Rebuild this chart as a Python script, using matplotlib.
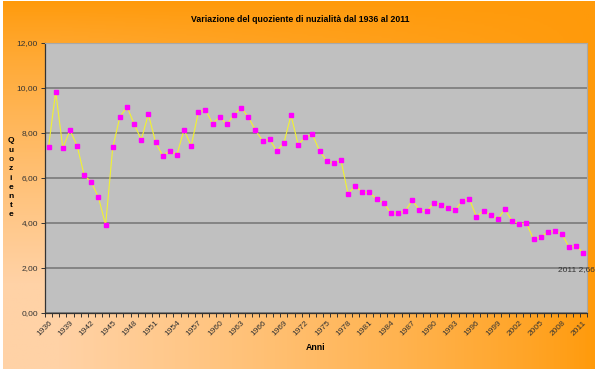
import numpy as np
import matplotlib
matplotlib.use("Agg")
import matplotlib.pyplot as plt
from matplotlib.colors import LinearSegmentedColormap

plt.rcParams['font.family'] = ['Liberation Sans', 'DejaVu Sans']

# quoziente di nuzialità, 1936-2011
anni = list(range(1936, 2012))
quoziente = [
    7.39, 9.84, 7.32, 8.13, 7.44, 6.12, 5.82, 5.14, 3.91, 7.36,
    8.71, 9.17, 8.40, 7.70, 8.84, 7.59, 6.99, 7.21, 7.04, 8.15,
    7.42, 8.92, 9.04, 8.42, 8.71, 8.38, 8.81, 9.13, 8.71, 8.13,
    7.66, 7.72, 7.20, 7.56, 8.79, 7.48, 7.81, 7.94, 7.20, 6.77,
    6.65, 6.79, 5.29, 5.66, 5.36, 5.36, 5.05, 4.90, 4.43, 4.46,
    4.52, 5.01, 4.59, 4.52, 4.87, 4.81, 4.65, 4.56, 4.98, 5.07,
    4.28, 4.55, 4.36, 4.18, 4.61, 4.09, 3.97, 4.00, 3.27, 3.39,
    3.59, 3.66, 3.50, 2.92, 2.99, 2.66,
]
y_ticks = [0, 2, 4, 6, 8, 10, 12]
etichetta_finale = "2011 2,66"

W, H = 600, 372
fig = plt.figure(figsize=(W / 100, H / 100), dpi=100)
fig.patch.set_facecolor("white")

# sfondo sfumato: arancione in alto a destra, pesca in basso a sinistra
bg = fig.add_axes([3 / W, 3 / H, 592 / W, 368 / H], zorder=-5)
xx, yy = np.meshgrid(np.linspace(0, 1, 300), np.linspace(0, 1, 200))
t = np.clip((1 - xx) * 1.1, 0, 1) * np.clip(yy * 1.3, 0, 1)
t = t ** 0.8
cmap = LinearSegmentedColormap.from_list("arancio", ["#ff9a0a", "#ffd2a6"])
bg.imshow(t, cmap=cmap, aspect="auto", extent=[0, 1, 0, 1], vmin=0, vmax=1)
bg.set_axis_off()

ax = fig.add_axes([45 / W, 1 - 313 / H, 542 / W, 270 / H])
ax.set_facecolor("#c0c0c0")

x = np.arange(len(anni))
ax.plot(x, quoziente, color="#f2f230", lw=0.8, zorder=3)
ax.plot(x, quoziente, ls="none", marker="s", ms=3.2, color="#ff00ff",
        mec="#ff00ff", zorder=4)

ax.set_xlim(-0.5, len(anni) - 0.5)
ax.set_ylim(0, 12)

ax.set_yticks(y_ticks)
ax.set_yticklabels([f"{v:.2f}".replace(".", ",") for v in y_ticks],
                   fontsize=6, color="#333333")
ax.yaxis.grid(True, color="#7a7a7a", lw=1.2)
ax.set_axisbelow(True)

ax.set_xticks(x[::3])
ax.set_xticklabels([str(a) for a in anni[::3]], rotation=45, ha="right",
                   rotation_mode="anchor", fontsize=6, color="#333333")
ax.set_xticks(np.arange(len(anni) + 1) - 0.5, minor=True)
ax.tick_params(axis="x", which="major", length=0, pad=4.5)
ax.tick_params(axis="x", which="minor", length=3, width=0.7, color="#333333")
ax.tick_params(axis="y", length=3, width=0.7, color="#333333", pad=2)

for s in ["top", "right"]:
    ax.spines[s].set_color("#a8a8a8")
    ax.spines[s].set_linewidth(0.8)
for s in ["left", "bottom"]:
    ax.spines[s].set_color("#333333")
    ax.spines[s].set_linewidth(0.9)

ax.annotate(etichetta_finale, (x[-1], quoziente[-1]), xytext=(-5, -9),
            textcoords="offset points", ha="center", va="top",
            fontsize=6, color="#333333")

fig.text(300 / W, 1 - 20 / H,
         "Variazione del quoziente di nuzialità dal 1936 al 2011",
         ha="center", va="center", fontsize=6.3, fontweight="bold")
fig.text(316 / W, 1 - 348 / H, "Anni", ha="center", va="center",
         fontsize=6.3, fontweight="bold")
fig.text(11 / W, 1 - 178 / H, "\n".join("Quoziente"), ha="center",
         va="center", fontsize=6, fontweight="bold", linespacing=1.45)

fig.savefig("out.png", dpi=100)
